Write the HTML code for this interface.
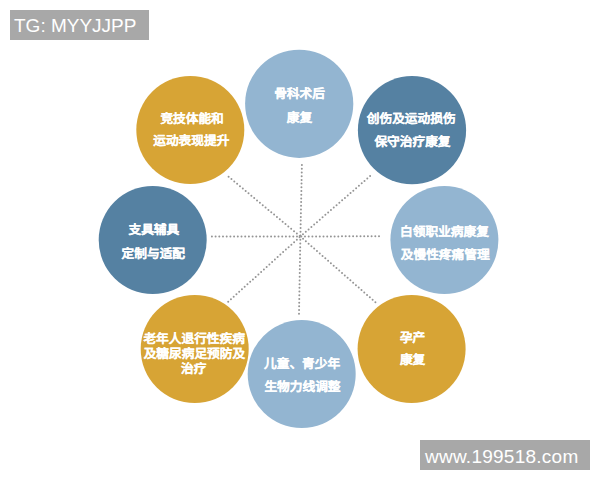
<!DOCTYPE html>
<html lang="zh-CN"><head><meta charset="utf-8">
<style>
html,body{margin:0;padding:0;background:#fff;width:600px;height:480px;overflow:hidden}
body{position:relative;font-family:"Liberation Sans",sans-serif}
svg{position:absolute;left:0;top:0}
.t{fill:#fff;font-size:12.7px;text-rendering:geometricPrecision;font-weight:bold;stroke:#fff;stroke-width:0.1px;text-anchor:middle;dominant-baseline:central}
.lbl{position:absolute;background:#a8a8a8;color:#fff;font-size:19px;height:30px}
.lbl span{position:absolute;line-height:normal;white-space:nowrap}
</style></head><body>
<svg width="600" height="480" viewBox="0 0 600 480">
<g stroke="#959595" stroke-width="2" stroke-dasharray="0 3.7" stroke-linecap="round" fill="none">
<line x1="301.9" y1="165.1" x2="300.4" y2="236.5"/>
<line x1="370.1" y1="176.1" x2="300.4" y2="236.5"/>
<line x1="379" y1="236.25" x2="300.4" y2="236.5"/>
<line x1="375.4" y1="302.25" x2="300.4" y2="236.5"/>
<line x1="299" y1="313.75" x2="300.4" y2="236.5"/>
<line x1="228.2" y1="301.7" x2="300.4" y2="236.5"/>
<line x1="211.9" y1="236.4" x2="300.4" y2="236.5"/>
<line x1="228.6" y1="176.75" x2="300.4" y2="236.5"/>
</g>
<circle cx="299.2" cy="103.8" r="54.1" fill="#93b5d1"/>
<circle cx="412" cy="130.2" r="54.1" fill="#5581a2"/>
<circle cx="444.4" cy="240.1" r="54" fill="#93b5d1"/>
<circle cx="411.6" cy="349" r="54" fill="#d7a435"/>
<circle cx="301.7" cy="374.1" r="54" fill="#93b5d1"/>
<circle cx="194.7" cy="349" r="54" fill="#d7a435"/>
<circle cx="152.7" cy="240" r="54" fill="#5581a2"/>
<circle cx="190.3" cy="130" r="54" fill="#d7a435"/>

<text class="t" x="299.5" y="94.3">骨科术后</text>
<text class="t" x="299.5" y="117.7">康复</text>

<text class="t" x="411.2" y="118.9">创伤及运动损伤</text>
<text class="t" x="412.5" y="141.5">保守治疗康复</text>

<text class="t" x="444.5" y="232">白领职业病康复</text>
<text class="t" x="445.2" y="254.6">及慢性疼痛管理</text>

<text class="t" x="412.6" y="338.1">孕产</text>
<text class="t" x="412.6" y="360.1">康复</text>

<text class="t" x="302.1" y="363.8">儿童、青少年</text>
<text class="t" x="302.5" y="386.9">生物力线调整</text>

<text class="t" x="194.2" y="339.4">老年人退行性疾病</text>
<text class="t" x="194.4" y="353.8">及糖尿病足预防及</text>
<text class="t" x="193.8" y="369.2">治疗</text>

<text class="t" x="153.85" y="229.9">支具辅具</text>
<text class="t" x="153.3" y="254">定制与适配</text>

<text class="t" x="192.1" y="119.2">竞技体能和</text>
<text class="t" x="191.3" y="141">运动表现提升</text>
</svg>
<div class="lbl" style="left:10px;top:10px;width:139px;"><span style="left:4px;top:5px">TG: MYYJJPP</span></div>
<div class="lbl" style="left:420px;top:440px;width:170px;"><span style="left:5px;top:6px;letter-spacing:0.25px">www.199518.com</span></div>
</body></html>
